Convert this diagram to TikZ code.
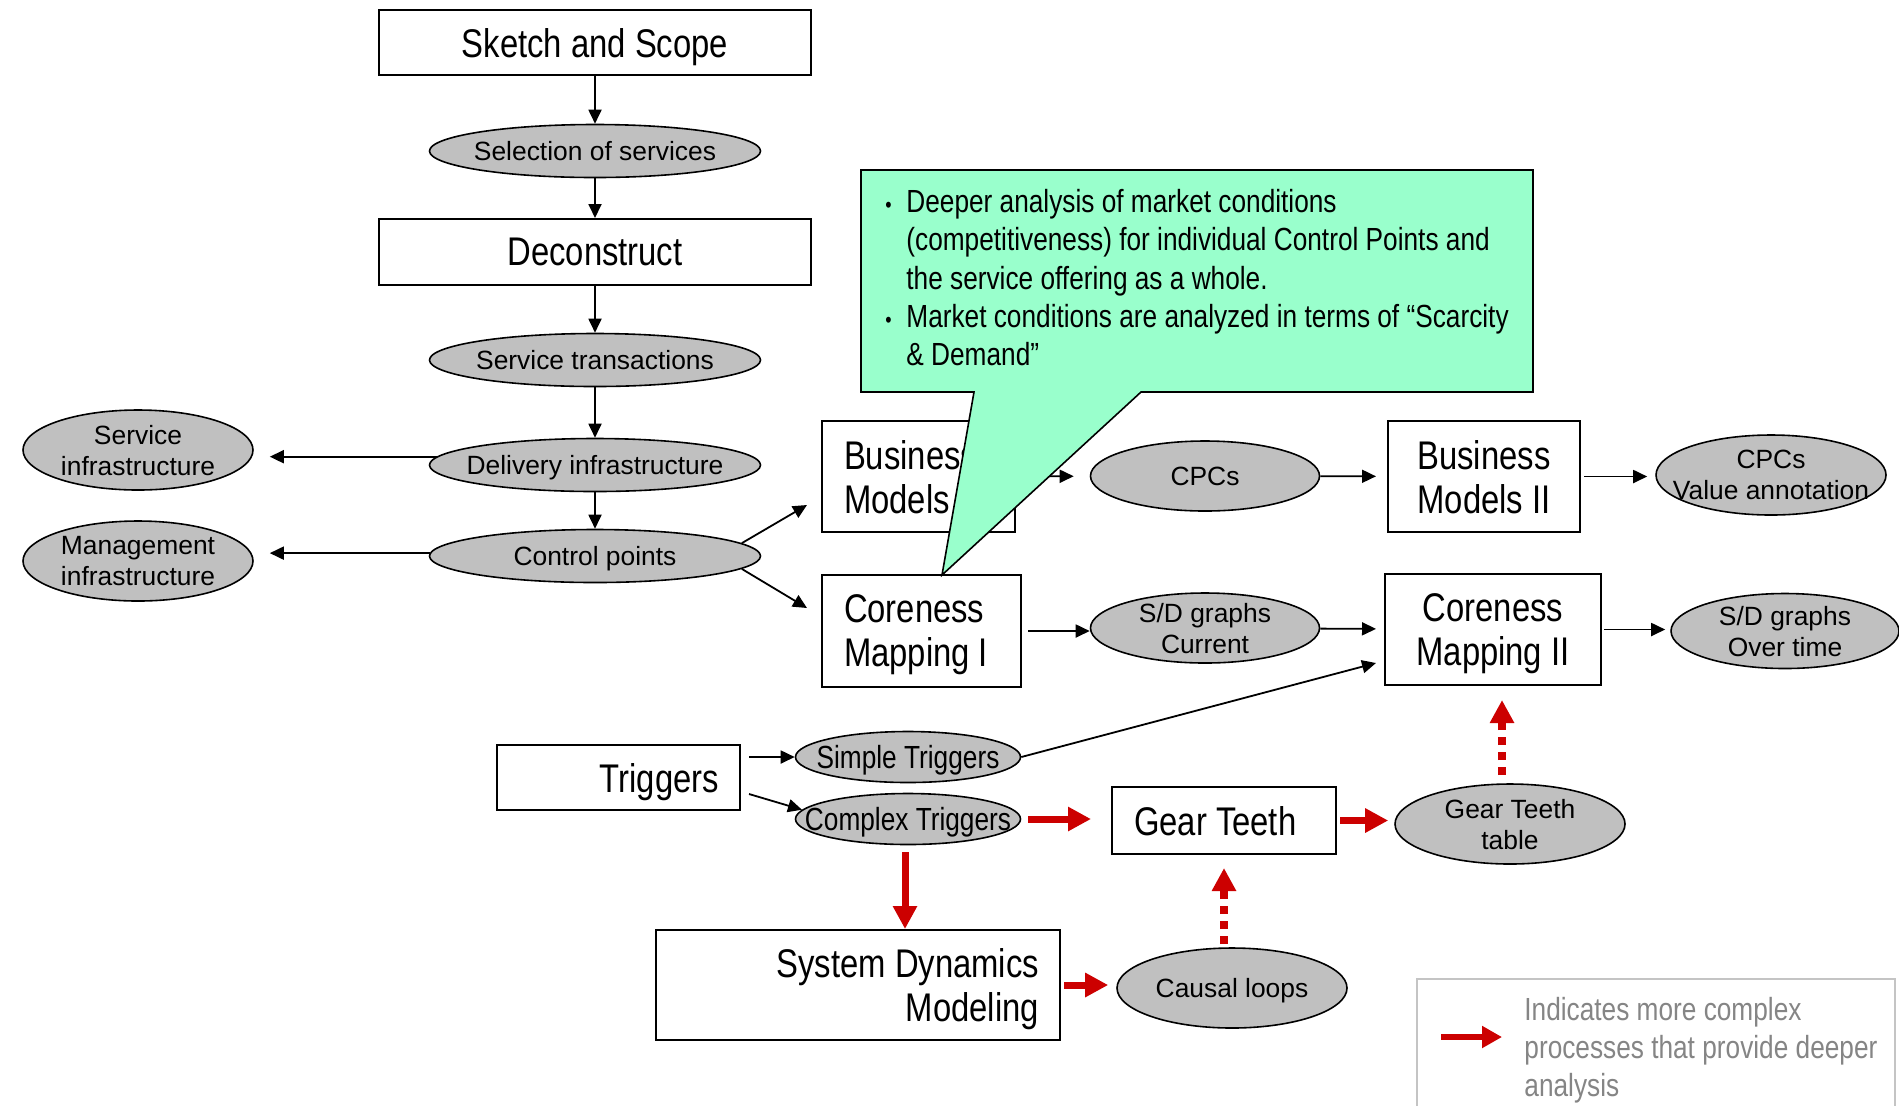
\documentclass[tikz,border=0pt]{standalone}
\usepackage{fontspec}
\setmainfont{Liberation Sans}
\newfontfamily\narrowfont{Liberation Sans}[FakeStretch=0.82]
\usetikzlibrary{shapes.geometric,arrows.meta,calc}

\definecolor{ovalgray}{HTML}{C0C0C0}
\definecolor{mint}{HTML}{99FFCC}
\definecolor{deepred}{HTML}{CC0000}
\definecolor{legendgray}{HTML}{858585}
\definecolor{legendborder}{HTML}{C4C4C4}

\begin{document}
\begin{tikzpicture}[x=0.5pt,y=-0.5pt,
  box/.style={draw,line width=1pt,rectangle,inner sep=0pt,align=center,
    font=\narrowfont\fontsize{20}{22}\selectfont},
  onebox/.style={box,text depth=0pt},
  widebox/.style={box,text depth=22pt},
  oval/.style={ellipse,draw,line width=0.8pt,fill=ovalgray,inner xsep=-30pt,inner ysep=-6pt,
    align=center,text depth=0pt,font=\fontsize{13.2}{15.5}\selectfont},
  narrowoval/.style={oval,font=\narrowfont\fontsize{16}{18}\selectfont},
  arr/.style={draw,line width=0.9pt,-{Triangle[length=7pt,width=6.5pt]}},
  redarr/.style={draw=deepred,line width=3.5pt,-{Triangle[length=11.5pt,width=11.5pt]}},
  reddash/.style={draw=deepred,line width=4pt,dash pattern=on 4pt off 3.5pt,
    -{Triangle[length=11.5pt,width=11.5pt]}},
]
\useasboundingbox (0,0) rectangle (1899,1105);

% main column
\node[onebox,minimum width=216pt,minimum height=32.5pt] (sketch) at (595,42.5) {Sketch and Scope};
\node[oval,minimum width=165.5pt,minimum height=26.5pt] (sel) at (595,151) {Selection of services};
\node[onebox,minimum width=216pt,minimum height=33pt] (dec) at (595,252) {Deconstruct};
\node[oval,minimum width=165.5pt,minimum height=26.5pt] (trans) at (595,360) {Service transactions};
\node[oval,minimum width=165.5pt,minimum height=26.5pt] (deliv) at (595,465) {Delivery infrastructure};
\node[oval,minimum width=165.5pt,minimum height=26.5pt] (ctrl) at (595,556) {Control points};

% infrastructure side nodes
\node[oval,minimum width=115pt,minimum height=40pt] (svc) at (138,450) {Service\\infrastructure};
\node[oval,minimum width=115pt,minimum height=40pt] (mgmt) at (138,561) {Management\\infrastructure};

% business models row
\node[widebox,minimum width=96.5pt,minimum height=55.5pt,text width=74.5pt,inner xsep=11pt,align=flush left] (bm1) at (918.5,476.5) {Business\\Models I};
\node[oval,minimum width=114.5pt,minimum height=35pt] (cpc) at (1205,476) {CPCs};
\node[onebox,minimum width=96pt,minimum height=55.5pt] (bm2) at (1484,476.5) {Business\\Models II};
\node[oval,minimum width=115pt,minimum height=40pt] (va) at (1771,475) {CPCs\\Value annotation};

% coreness row
\node[widebox,minimum width=99.5pt,minimum height=56pt,text width=77.5pt,inner xsep=11pt,align=flush left] (cm1) at (921.5,631) {Coreness\\Mapping I};
\node[oval,minimum width=114.5pt,minimum height=35pt] (sdc) at (1205,628) {S/D graphs\\Current};
\node[onebox,minimum width=108pt,minimum height=55.5pt] (cm2) at (1493,629.5) {Coreness\\Mapping II};
\node[oval,minimum width=114pt,minimum height=37.5pt] (sdot) at (1785,631) {S/D graphs\\Over time};

% triggers and deeper analysis
\node[onebox,minimum width=121.5pt,minimum height=32.5pt,text width=100.5pt,inner xsep=10.5pt,align=flush right] (trig) at (618.5,777.5) {Triggers};
\node[narrowoval,minimum width=112.5pt,minimum height=25.5pt] (st) at (908,757) {Simple Triggers};
\node[narrowoval,minimum width=112.5pt,minimum height=25.5pt] (ct) at (908,819) {Complex Triggers};
\node[onebox,minimum width=112pt,minimum height=33.5pt,text width=90pt,inner xsep=11pt,align=flush left] (gear) at (1224,820.5) {Gear Teeth};
\node[oval,minimum width=115pt,minimum height=40pt] (table) at (1510,824) {Gear Teeth\\table};
\node[widebox,minimum width=202pt,minimum height=55pt,text width=181pt,inner xsep=10.5pt,align=flush right] (sdm) at (858,985) {System Dynamics\\Modeling};
\node[oval,minimum width=115pt,minimum height=40pt] (causal) at (1232,988) {Causal loops};

% black connectors
\draw[arr] (sketch) -- (sel);
\draw[arr] (sel) -- (dec);
\draw[arr] (dec) -- (trans);
\draw[arr] (trans) -- (deliv);
\draw[arr] (deliv) -- (ctrl);
\draw[arr,shorten >=8pt] (deliv.177) -- (deliv.177 -| svc.east);
\draw[arr,shorten >=8pt] (ctrl.179) -- (ctrl.179 -| mgmt.east);
\draw[arr] (ctrl.5) -- ($(bm1.south west)+(-14,-28)$);
\draw[arr] (ctrl.-5) -- ($(cm1.west)+(-14,-23)$);
\draw[arr,shorten >=8pt] (bm1) -- (cpc);
\draw[arr,shorten >=5.5pt] (cpc) -- (bm2);
\draw[arr,shorten <=1.5pt,shorten >=4pt] (bm2.east) -- (bm2.east -| va.west);
\draw[arr,shorten <=3pt] (cm1.east) -- (cm1.east -| sdc.west);
\draw[arr,shorten >=4pt] (sdc) -- (cm2);
\draw[arr,shorten <=1pt,shorten >=2.5pt] (cm2.east) -- (cm2.east -| sdot.west);
\draw[arr] (st.east) -- ($(cm2.south west)+(-8,-23)$);
\draw[arr] ($(trig.east |- st.west)+(8,0)$) -- (st.west);
\draw[arr] ($(trig.east)+(8,16.5)$) -- (ct.175);

% red connectors
\draw[redarr,shorten <=3.5pt,shorten >=10pt] (ct.east) -- (ct.east -| gear.west);
\draw[redarr,shorten <=1.5pt,shorten >=3pt] (gear.east) -- (gear.east -| table.west);
\draw[redarr,shorten <=3.5pt] ($(ct.south)+(-3,0)$) -- ($(ct.south |- sdm.north)+(-3,0)$);
\draw[redarr,shorten <=1.5pt,shorten >=4pt] (sdm.east) -- (sdm.east -| causal.west);
\draw[reddash,shorten <=1.5pt,shorten >=6.5pt] (gear.south |- causal.north) -- (gear.south);
\draw[reddash,shorten <=4pt,shorten >=7pt] ($(table.north)+(-8,0)$) -- ($(cm2.south)+(9,0)$);

% callout
\draw[fill=mint,line width=0.8pt] (861,170) -- (1533,170) -- (1533,392) -- (1141,392)
  -- (942,575) -- (974,392) -- (861,392) -- cycle;
\node[anchor=north west,inner sep=0pt,align=left,font=\narrowfont\fontsize{16}{19.1}\selectfont] (note) at (885,189)
  {\makebox[10.5pt][l]{\fontsize{11}{11}\selectfont\textbullet}Deeper analysis of market conditions\\
   \hspace*{10.5pt}(competitiveness) for individual Control Points and\\
   \hspace*{10.5pt}the service offering as a whole.\\
   \makebox[10.5pt][l]{\fontsize{11}{11}\selectfont\textbullet}Market conditions are analyzed in terms of “Scarcity\\
   \hspace*{10.5pt}\& Demand”};

% legend
\draw[legendborder,line width=1pt] (1417,979) rectangle (1895,1140);
\coordinate (legA) at (1441,1037);
\coordinate (legB) at (1502,1037);
\draw[draw=deepred,line width=3pt,-{Triangle[length=10pt,width=10.5pt]}] (legA) -- (legB);
\node[anchor=west,inner sep=0pt,align=left,text=legendgray,font=\narrowfont\fontsize{16}{19}\selectfont] (legtext) at (1524,1050)
  {Indicates more complex\\processes that provide deeper\\analysis};
\end{tikzpicture}
\end{document}
